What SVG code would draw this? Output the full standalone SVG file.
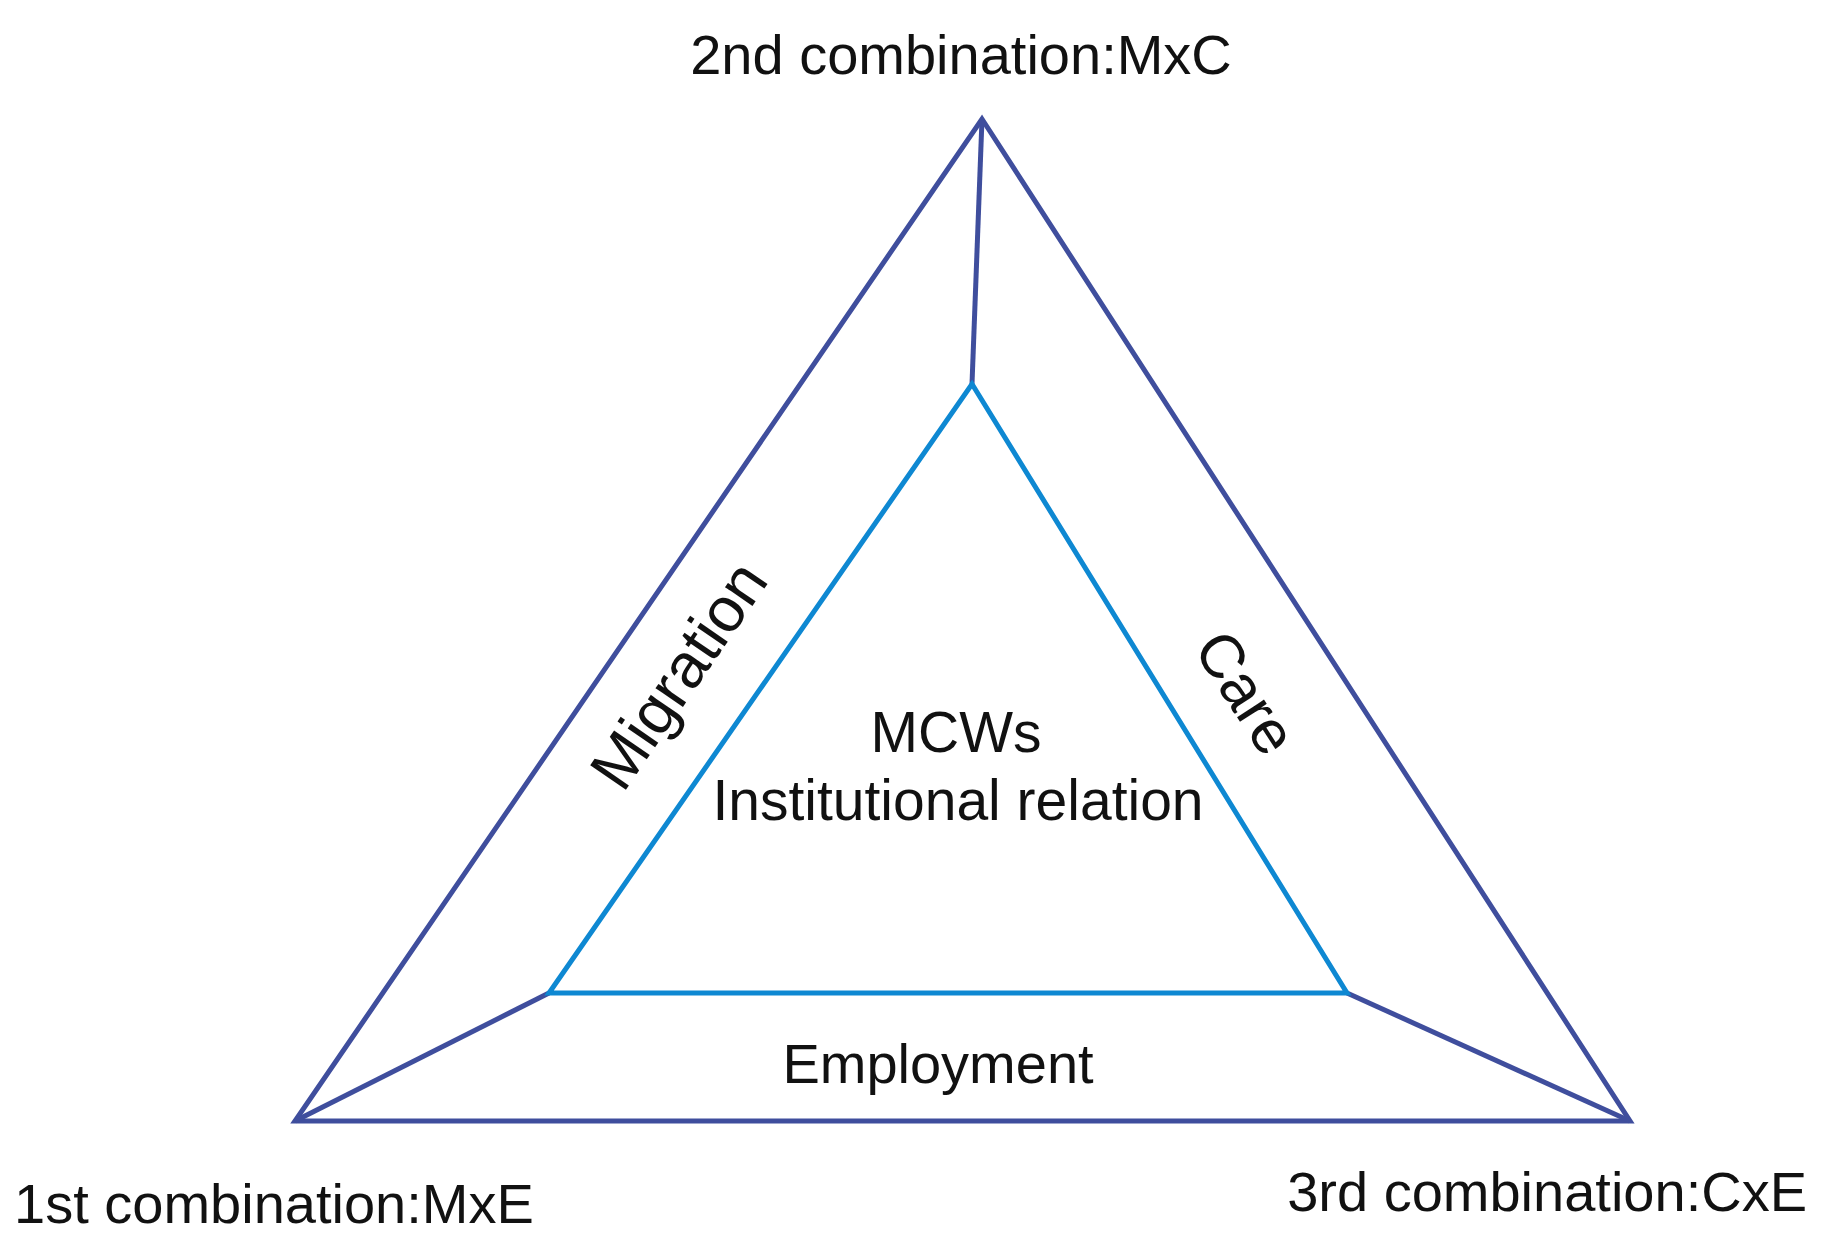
<svg xmlns="http://www.w3.org/2000/svg" width="1826" height="1240" viewBox="0 0 1826 1240">
<style>
.outer{fill:none;stroke:#3f4e9d;stroke-width:5;stroke-linejoin:miter}
.inner{fill:none;stroke:#0e88d2;stroke-width:5;stroke-linejoin:miter}
.conn{stroke:#3f4e9d;stroke-width:5;fill:none}
text{font-family:"Liberation Sans",Arial,sans-serif;font-size:56px;fill:#111}
.mid{font-size:57px}
</style>
<rect width="1826" height="1240" fill="#fff"/>
<g id="outer-triangle">
<polygon class="outer" points="982,119 1630,1121 295,1121"/>
</g>
<g id="connectors">
<line class="conn" x1="982" y1="119" x2="972" y2="384"/>
<line class="conn" x1="295" y1="1121" x2="549" y2="993"/>
<line class="conn" x1="1630" y1="1121" x2="1347" y2="993"/>
</g>
<g id="inner-triangle">
<polygon class="inner" points="972,384 1347,993 549,993"/>
<text class="mid" x="956" y="752" text-anchor="middle">MCWs</text>
<text class="mid" x="958" y="820" text-anchor="middle">Institutional relation</text>
</g>
<g id="migration">
<text transform="translate(680,676) rotate(-55.5)" x="0" y="20" text-anchor="middle" style="font-size:63px">Migration</text>
</g>
<g id="care">
<text transform="translate(1245,693) rotate(57)" x="0" y="20" text-anchor="middle" style="font-size:61px">Care</text>
</g>
<g id="employment">
<text x="938" y="1083" text-anchor="middle">Employment</text>
</g>
<g id="combo2">
<text x="961" y="74" text-anchor="middle">2nd combination:MxC</text>
</g>
<g id="combo1">
<text x="14" y="1223">1st combination:MxE</text>
</g>
<g id="combo3">
<text x="1807" y="1211" text-anchor="end">3rd combination:CxE</text>
</g>
</svg>
